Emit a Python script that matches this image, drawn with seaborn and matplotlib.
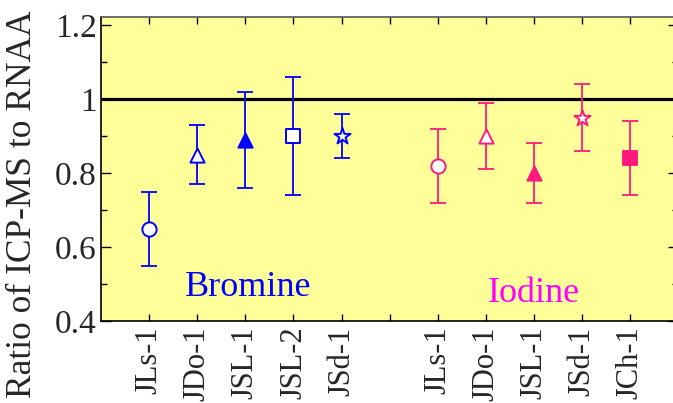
import pandas as pd
import seaborn as sns
import matplotlib.pyplot as plt
from matplotlib.ticker import MultipleLocator

# Bromine samples
br_labels = ['JLs-1', 'JDo-1', 'JSL-1', 'JSL-2', 'JSd-1']
br_ratio = [0.65, 0.85, 0.89, 0.90, 0.90]
br_err = [0.10, 0.08, 0.13, 0.16, 0.06]
br_marker = ['o', '^', '^', 's', '*']
br_filled = [False, False, True, False, False]

# Iodine samples
i_labels = ['JLs-1', 'JDo-1', 'JSL-1', 'JSd-1', 'JCh-1']
i_ratio = [0.82, 0.90, 0.80, 0.95, 0.84]
i_err = [0.10, 0.09, 0.08, 0.09, 0.10]
i_marker = ['o', '^', '^', '*', 's']
i_filled = [False, False, True, False, True]

tick_labels = br_labels + [''] + i_labels

BLUE = '#0000ff'
PINK = '#ff1a80'

sns.set_style('ticks')
plt.rcParams['font.family'] = ['Liberation Serif', 'DejaVu Serif']

df = pd.DataFrame({
    'pos': list(range(1, 6)) + list(range(7, 12)),
    'ratio': br_ratio + i_ratio,
    'err': br_err + i_err,
    'marker': br_marker + i_marker,
    'filled': br_filled + i_filled,
    'color': [BLUE] * 5 + [PINK] * 5,
})

fig = plt.figure(figsize=(6.73, 4.03), dpi=100)
ax = fig.add_axes([0.150, 0.2035, 0.858, 0.7545])
ax.set_facecolor('#ffff99')

ax.axhline(1.0, color='black', lw=2.3, zorder=1)

for _, r in df.iterrows():
    ax.errorbar(r['pos'], r['ratio'], yerr=r['err'], fmt='none',
                ecolor=r['color'], elinewidth=1.3, capsize=5.5, capthick=1.3, zorder=2)
    size = 150 if r['marker'] == '*' else 105
    sns.scatterplot(x=[r['pos']], y=[r['ratio']], marker=r['marker'], s=size,
                    color=r['color'] if r['filled'] else 'white',
                    edgecolor=r['color'], linewidth=1.4, zorder=3, ax=ax)

ax.text(3.05, 0.49, 'Bromine', color=BLUE, fontsize=26, ha='center', va='center')
ax.text(9.0, 0.475, 'Iodine', color='#ff00ff', fontsize=26, ha='center', va='center')

ax.set_xlim(0, 12)
ax.set_ylim(0.4, 1.222)
ax.set_xticks(range(1, 12))
ax.set_xticklabels(tick_labels, rotation=90, fontsize=22)
ax.set_yticks([0.4, 0.6, 0.8, 1.0, 1.2])
ax.set_yticklabels(['0.4', '0.6', '0.8', '1', '1.2'], fontsize=24)
ax.yaxis.set_minor_locator(MultipleLocator(0.1))
ax.tick_params(axis='both', which='both', direction='in', top=True, right=True,
               color='black', width=1)
ax.tick_params(axis='y', which='major', length=7, pad=3)
ax.tick_params(axis='y', which='minor', length=4)
ax.tick_params(axis='x', which='major', length=5, pad=4)
ax.set_ylabel('Ratio of ICP-MS to RNAA', fontsize=25.5)
ax.yaxis.set_label_coords(-0.108, 0.385)
ax.set_xlabel('')
for s in ax.spines.values():
    s.set_linewidth(1.2)
    s.set_color('black')
ax.spines['top'].set_color('#555555')

plt.savefig('out.png', dpi=100)
